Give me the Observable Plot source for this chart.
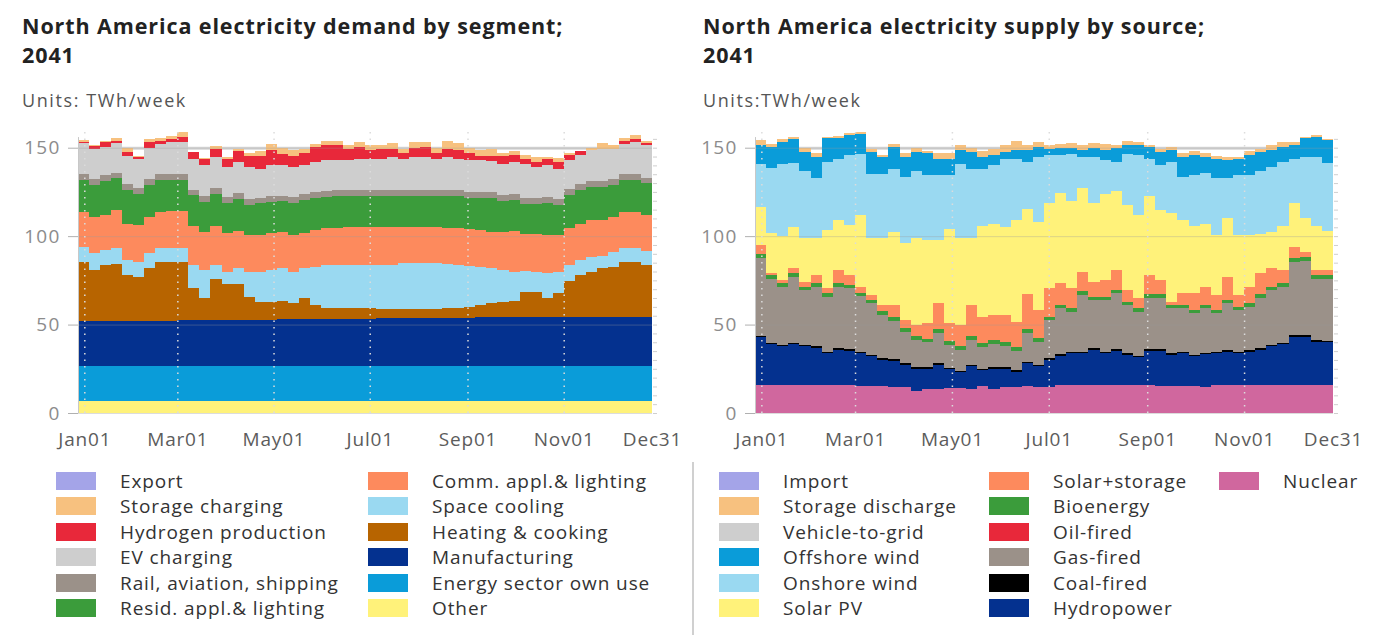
<!DOCTYPE html>
<html><head><meta charset="utf-8">
<script src="https://cdn.jsdelivr.net/npm/d3@7"></script>
<script src="https://cdn.jsdelivr.net/npm/@observablehq/plot@0.6"></script>
<style>
body{margin:0;background:#fff;width:1375px;height:635px;position:relative;overflow:hidden;font-family:"Open Sans",sans-serif;}
.title{position:absolute;font-weight:700;font-size:21.5px;letter-spacing:0.9px;line-height:29.5px;color:#222;white-space:nowrap;}
.units{position:absolute;font-size:18px;letter-spacing:1.6px;color:#555;white-space:nowrap;}
.chart{position:absolute;}
.leg{position:absolute;font-size:19px;letter-spacing:0.9px;color:#333;line-height:20px;white-space:nowrap;}
.sw{position:absolute;width:40px;height:18px;}
.sep{position:absolute;left:692px;top:462px;width:2px;height:173px;background:#d0d0d0;}
</style></head><body>
<div class="title" style="left:22px;top:11px">North America electricity demand by segment;</div>
<div class="title" style="left:22px;top:40px">2041</div>
<div class="units" style="left:22px;top:88px">Units: TWh/week</div>
<div class="title" style="left:703px;top:11px">North America electricity supply by source;</div>
<div class="title" style="left:703px;top:40px">2041</div>
<div class="units" style="left:703px;top:88px">Units:TWh/week</div>
<div id="left" class="chart" style="left:0;top:120px"></div>
<div id="right" class="chart" style="left:690px;top:120px"></div>
<div class="sep"></div>
<div id="legends"></div>
<script>
// ---- axis ticks ----
const tickDays = [4, 63, 124, 185, 247, 308, 364];
const tickLabels = ["Jan01", "Mar01", "May01", "Jul01", "Sep01", "Nov01", "Dec31"];
const yTicks = [0, 50, 100, 150];

// ---- demand by segment (TWh/week), 52 weeks ----
const demandNames = ["Export","Storage charging","Hydrogen production","EV charging","Rail, aviation, shipping","Resid. appl.& lighting","Comm. appl.& lighting","Space cooling","Heating & cooking","Manufacturing","Energy sector own use","Other"];
const demandColors = ["#a4a4e8","#f7c17f","#e8283a","#cecece","#9b9189","#3b9c3b","#fd8a5d","#9ad9f1","#b76400","#04318f","#0a9cd9","#fff27a"];
const dOther = [7,7,7,7,7,7,7,7,7,7,7,7,7,7,7,7,7,7,7,7,7,7,7,7,7,7,7,7,7,7,7,7,7,7,7,7,7,7,7,7,7,7,7,7,7,7,7,7,7,7,7,7];
const dEnergy = [19.5,19.5,19.5,19.5,19.5,19.5,19.5,19.5,19.5,19.5,19.5,19.5,19.5,19.5,19.5,19.5,19.5,19.5,19.5,19.5,19.5,19.5,19.5,19.5,19.5,19.5,19.5,19.5,19.5,19.5,19.5,19.5,19.5,19.5,19.5,19.5,19.5,19.5,19.5,19.5,19.5,19.5,19.5,19.5,19.5,19.5,19.5,19.5,19.5,19.5,19.5,19.5];
const dManuf = [25.6,25.6,25.6,25.6,25.6,25.6,25.6,25.6,25.6,26,26,26,26,26,26,26,26,26,26.5,26.5,26.5,26.5,26.5,26.5,26.5,26.5,26.5,27,27,27,27,27,27,27,27,27,27.5,27.5,27.5,27.5,27.5,27.5,27.5,27.5,28,28,28,28,28,28,28,28];
const dHeating = [33.4,28.7,31.5,32.4,25.9,24.9,29.9,33.4,33.4,33.0,18.1,12.5,23.5,20.5,20.5,13.0,10.5,10.0,10.5,9.0,12.0,8.0,6.5,6.5,6.3,6.3,6.3,5.5,5.5,5.5,5.5,5.5,5.5,5.7,6.0,6.5,7.0,8.0,9.0,9.5,14.5,14.5,11.0,13.7,20.1,23.5,25.3,27.2,28.1,31.0,31.0,29.1];
const dCooling = [8.5,9.6,8.4,8.9,8.4,8.5,8.4,7.9,7.9,7.9,13.0,15.8,7.6,6.8,8.7,14.3,17.0,18.3,18.2,17.8,16.7,21.6,24.1,24.1,24.3,24.3,24.3,24.6,24.6,25.6,25.6,25.6,25.6,24.8,24.1,23.0,21.6,20.0,18.0,16.5,12.0,11.3,14.0,12.1,9.0,8.4,8.2,7.3,8.4,7.9,7.9,8.0];
const dComm = [19.7,20.5,20.0,21.1,20.6,21.0,20.6,20.3,20.9,20.9,22.4,21.6,22.4,21.9,21.3,20.7,20.5,20.7,20.7,20.7,19.8,20.8,20.9,20.9,21.4,21.7,21.7,21.7,21.7,20.7,20.7,20.7,20.4,20.5,20.9,21.0,20.9,20.4,21.4,23.0,20.5,21.2,21.5,20.7,20.9,20.6,21.0,20.0,20.0,20.3,20.3,20.4];
const dResid = [17.9,17.9,19.0,18.1,19.0,17.5,18.0,17.9,17.3,17.3,17.0,17.0,18.0,16.9,18.0,17.0,18.0,17.9,17.2,18.1,19.0,18.4,17.8,18.0,17.9,17.6,17.6,17.6,17.6,17.6,17.6,17.6,17.9,18.4,18.4,17.8,17.9,19.0,17.6,17.5,17.0,17.0,18.5,17.0,19.0,19.0,18.9,18.9,18.0,17.9,17.9,17.8];
const dRail = [3.3,3.3,3.3,3.3,3.3,3.3,3.3,3.3,3.3,3.3,3.3,3.3,3.3,3.3,3.3,3.3,3.3,3.3,3.3,3.3,3.3,3.3,3.3,3.3,3.3,3.3,3.3,3.3,3.3,3.3,3.3,3.3,3.3,3.3,3.3,3.3,3.3,3.3,3.3,3.3,3.3,3.3,3.3,3.3,3.3,3.3,3.3,3.3,3.3,3.3,3.3,3.3];
const dEV = [17.6,17.4,16.2,17.0,16.1,16.5,17.7,17.4,18.4,18.4,17.5,17.4,17.7,17.3,17.7,18.4,16.4,17.3,17.1,17.3,16.2,16.9,17.4,17.2,16.8,17.6,17.6,17.6,18.8,17.6,18.8,18.8,17.6,18.8,17.6,17.9,18.3,17.8,17.7,18.2,19.7,17.9,17.7,17.4,16.2,16.5,17.4,18.3,17.2,17.4,18.4,18.3];
const dHydrogen = [0.5,1.5,2.5,1.1,2.1,1.2,3.0,1.7,1.7,2.9,3.5,3.7,4.3,4.6,6.0,6.1,7.1,8.7,6.7,6.3,7.0,8.6,8.4,8.4,6.3,6.8,4.8,5.5,4.3,3.1,5.0,5.6,3.2,4.3,4.8,4.0,2.3,2.8,4.3,4.0,2.8,2.8,3.8,3.8,3.0,2.2,0,0,0,1.2,1.7,1.0];
const dStorage = [1.5,0.5,0.6,1.5,2.5,0.3,1.8,1.2,1.7,2.8,0.5,0.5,1.7,1.2,1.2,1.7,2.7,3.3,3.3,3.1,2.0,1.4,2.2,2.2,2.2,2.4,2.8,2.5,3.5,2.6,3.0,2.4,3.0,4.4,3.8,3.0,3.3,3.9,1.7,2.0,2.2,3.0,1.2,2.0,1.0,0.4,1.4,2.9,2.0,2.0,2.0,1.2];
const dExport = [];

// ---- supply by source (TWh/week), 52 weeks ----
const supplyNames = ["Import","Storage discharge","Vehicle-to-grid","Offshore wind","Onshore wind","Solar PV","Solar+storage","Bioenergy","Oil-fired","Gas-fired","Coal-fired","Hydropower","Nuclear"];
const supplyColors = ["#a4a4e8","#f7c17f","#cecece","#0a9cd9","#9ad9f1","#fff27a","#fd8a5d","#3b9c3b","#e8283a","#9b9189","#000000","#04318f","#d0679e"];
const sNuclear = [16,16,16,16,16,16,16,16,16,15.5,15.2,15.0,14.8,14.5,12.5,13.5,13.5,14.1,14.1,13.5,15.0,13.5,14.5,14.5,15.0,14.6,14.6,15.8,15.8,15.8,15.8,15.8,15.8,15.8,15.8,15.8,15.0,15.0,15.0,15.0,14.5,15.8,15.8,15.8,15.8,15.8,15.8,15.8,15.8,15.8,15.8,15.8];
const sHydro = [26.7,22.9,21.6,22.9,21.6,21.0,17.8,19.7,19.2,18.3,16.8,15.2,14.7,12.7,12.5,11.5,13.7,10.5,9.0,13.0,9.2,11.5,10.5,8.8,13.2,11.9,15.6,16.7,18.0,18.0,19.9,18.0,19.4,17.1,15.6,19.4,20.2,17.9,18.8,17.0,18.9,18.0,18.8,18.0,18.8,19.9,21.8,23.1,27.4,27.4,24.6,24.2];
const sCoal = [0.8,0.8,0.8,0.8,0.8,0.8,0.8,0.8,0.8,0.8,0.8,0.8,0.8,0.8,0.8,0.8,0.8,0.8,0.8,0.8,0.8,0.8,0.8,0.8,0.8,0.8,0.8,0.8,0.8,0.8,0.8,0.8,0.8,0.8,0.8,0.8,0.8,0.8,0.8,0.8,0.8,0.8,0.8,0.8,0.8,0.8,0.8,0.8,0.8,0.8,0.8,0.8];
const sGas = [43.9,36.3,33.0,37.3,31.1,33.6,31.1,34.9,34.6,31.4,29.2,24.4,21.7,18.0,15.7,14.2,17.5,13.1,11.9,14.2,12.5,13.2,12.2,11.2,16.5,13.0,21.5,25.8,22.6,32.1,27.3,29.2,31.6,27.3,25.0,29.0,29.0,25.4,24.5,23.7,24.9,21.9,26.6,23.4,24.6,28.5,31.1,31.7,41.1,42.0,34.8,35.2];
const sOil = [];
const sBio = [2.6,2,2,2,2,2,2,2,2,2,2,2,2,2,2,2,2,2,2,2,2,2,2,2,2,2,2,2,2,2,2,2,2,2,2,2,2,2,2,2,2,2,2,2,2,2,2,2,2.4,2,2,2];
const sSolarStorage = [4.9,1.0,1.7,2.7,2.7,4.6,2.7,7.4,5.4,3.4,2.7,3.6,7.0,4.5,6.2,8.8,14.5,10.3,11.9,17.5,14.9,14.4,15.4,14.3,19.5,15.7,15.9,12.2,11.2,11.1,8.4,9.2,11.2,6.5,5.6,11.0,8.0,1.8,6.5,9.1,10.3,8.2,13.0,6.7,9.4,12.0,10.2,7.4,6.5,3.1,2.8,2.8];
const sSolarPV = [21.7,22.5,24.9,23.6,24.8,21.0,33.0,28.2,28.2,40.5,32.3,38.0,41.4,43.4,49.3,47.2,36.0,53.5,49.3,38.0,51.6,51.6,49.6,57.4,48.6,50.0,48.1,50.8,49.4,47.2,44.3,49.0,44.6,48.0,47.1,44.8,39.7,50.1,41.4,38.4,35.6,33.9,33.0,33.9,29.2,22.0,20.8,25.2,24.5,18.9,25.2,22.0];
const sOnshore = [23.9,37.1,40.5,36.3,37.6,33.6,38.6,34.8,39.6,34.8,35.9,35.9,35.8,37.6,37.6,36.5,36.5,30.2,42.0,39.2,32.2,33.0,38.8,34.8,26.4,36.8,27.3,21.7,26.9,17.8,26.3,19.0,16.6,29.2,33.9,21.0,25.3,29.0,24.5,28.5,28.5,32.0,22.6,33.9,33.9,35.6,36.8,36.0,25.3,34.8,38.8,38.8];
const sOffshore = [10.9,11.9,12.8,13.2,11.2,12.2,13.2,11.4,11.2,11.3,12.9,9.9,12.2,11.3,11.2,12.4,9.3,9.3,7.6,9.6,6.6,5.8,4.0,4.8,6.6,5.7,3.7,4.0,3.3,3.8,5.0,5.6,7.8,4.7,5.6,6.7,7.8,6.6,11.3,11.3,9.3,11.2,10.4,9.3,11.3,11.2,9.3,8.5,7.6,10.4,11.4,12.6];
const sV2G = [];
const sStorageDis = [2.8,1.5,1.4,1.2,2.2,2.2,0.8,1.3,1.5,1.0,1.2,1.2,1.6,2.2,2.2,1.1,3.2,3.2,2.8,2.2,3.2,3.7,4.0,5.0,2.8,2.5,1.9,2.5,2.8,2.8,3.0,3.7,1.6,2.2,1.6,1.3,1.7,1.9,2.2,2.2,2.2,1.7,2.0,1.2,2.2,1.7,2.8,2.5,1.6,0.8,0.8,0.8];
const sImport = [];

const demandSeries = [dExport,dStorage,dHydrogen,dEV,dRail,dResid,dComm,dCooling,dHeating,dManuf,dEnergy,dOther];
const supplySeries = [sImport,sStorageDis,sV2G,sOffshore,sOnshore,sSolarPV,sSolarStorage,sBio,sOil,sGas,sCoal,sHydro,sNuclear];

function rowsOf(names, series) {
  const rows = [];
  names.forEach((n, k) => series[k].forEach((v, i) => rows.push({series: n, x1: i * 7, x2: i * 7 + 7, value: v})));
  return rows;
}

function chart(names, colors, series, width, mL, mR) {
  const order = names.slice().reverse(); // bottom first
  const rows = rowsOf(names, series);
  const minor = d3.range(0, 156, 5);
  const svg = Plot.plot({
    width, height: 345, marginLeft: mL, marginRight: mR, marginTop: 10, marginBottom: 52,
    style: {fontFamily: "Open Sans", fontSize: "17px", background: "#fff"},
    x: {domain: [0, 364], axis: null},
    y: {domain: [0, 160], axis: null},
    color: {domain: names, range: colors},
    marks: [
      Plot.ruleY([50, 100, 150], {stroke: "#d6d6d6", strokeWidth: 3}),
      Plot.rectY(rows, {x1: "x1", x2: "x2", y: "value", fill: "series", order, shapeRendering: "crispEdges"}),
      Plot.ruleY([0, 50, 100, 150], {stroke: "#9a9a9a", strokeOpacity: 0.35, strokeWidth: 1}),
      Plot.ruleX([0], {y1: 0, y2: 156, stroke: "#c8c8c8"}),
      Plot.ruleX(tickDays.slice(0, 6), {y1: 0, y2: 160, stroke: "#dcdcdc", strokeWidth: 1.5, strokeDasharray: "1.5,5"}),
      Plot.axisY({ticks: yTicks, tickSize: 10, tickPadding: 8, stroke: "#b0b0b0", fill: "#8c8c8c", fontSize: 19, label: null}),
      Plot.axisY({anchor: "right", ticks: minor, tickSize: 4, tickFormat: () => "", stroke: "#cfcfcf", label: null}),
      Plot.axisX({ticks: tickDays, tickSize: 0, tickPadding: 19, fill: "#5c5c5c", fontSize: 19,
        tickFormat: d => tickLabels[tickDays.indexOf(d)], label: null})
    ]
  });
  d3.select(svg).selectAll('g[aria-label="x-axis tick label"]').style("letter-spacing", "0.8px");
  d3.select(svg).selectAll('g[aria-label="y-axis tick label"]').style("letter-spacing", "1.2px");
  return svg;
}

document.getElementById("left").append(chart(demandNames, demandColors, demandSeries, 690, 78, 38));
document.getElementById("right").append(chart(supplyNames, supplyColors, supplySeries, 685, 65, 42));

// ---- legends ----
function legend(names, colors, cols) {
  const box = document.getElementById("legends");
  names.forEach((n, k) => {
    const c = Math.floor(k / 6), r = k % 6;
    const x = cols[c], y = 472 + r * 25.4;
    const sw = document.createElement("div");
    sw.className = "sw"; sw.style.left = x + "px"; sw.style.top = y + "px"; sw.style.background = colors[k];
    const t = document.createElement("div");
    t.className = "leg"; t.style.left = (x + 64) + "px"; t.style.top = (y - 1) + "px"; t.textContent = n;
    box.append(sw, t);
  });
}
legend(demandNames, demandColors, [56, 368]);
legend(supplyNames, supplyColors, [719, 989, 1219]);
</script>
</body></html>
